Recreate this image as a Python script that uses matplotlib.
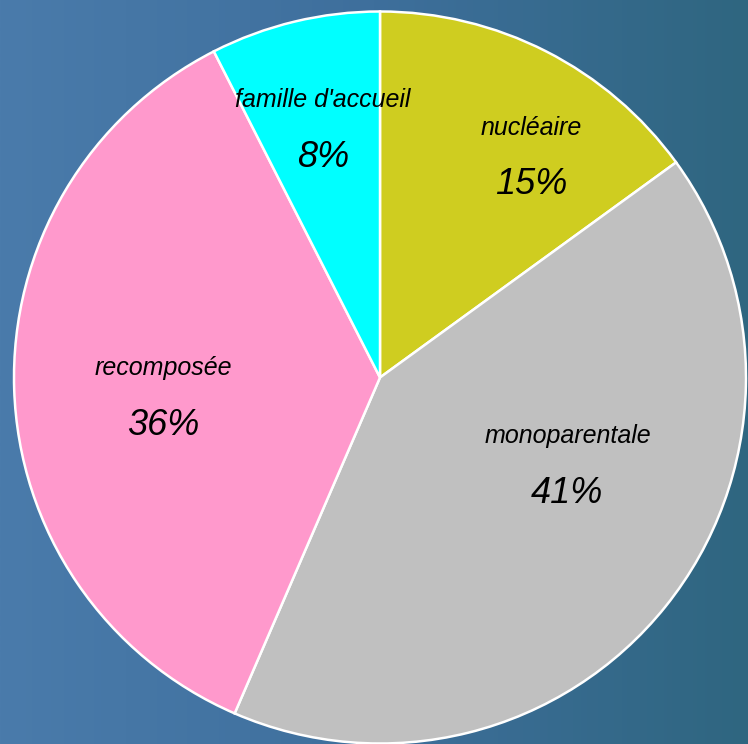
import numpy as np
import matplotlib.pyplot as plt
from matplotlib.colors import LinearSegmentedColormap

# data
categories = ['nucléaire', 'monoparentale', 'recomposée', "famille d'accueil"]
values = [15, 41.5, 36, 7.5]
pct_labels = ['15%', '41%', '36%', '8%']
colors = ['#cfcd20', '#c0c0c0', '#ff99cc', '#00ffff']

# label centres, in units of the pie radius
label_pos = [(0.413, 0.601), (0.512, -0.243), (-0.593, -0.057), (-0.156, 0.675)]

fig = plt.figure(figsize=(7.48, 7.44), dpi=100)

# background (blue textured picture in the original, approximated by a gradient)
bg = fig.add_axes([0, 0, 1, 1])
cmap = LinearSegmentedColormap.from_list('bg', ['#4a7bab', '#3e6f9c', '#2f6680'])
grad = np.linspace(0, 1, 256).reshape(1, -1)
bg.imshow(grad, aspect='auto', cmap=cmap, extent=[0, 1, 0, 1])
bg.axis('off')

# pie fills nearly the whole figure: centre (380,377) px, radius ~366 px
r = 366
cx, cy = 380, 744 - 377.5
ax = fig.add_axes([(cx - r) / 748, (cy - r) / 744, 2 * r / 748, 2 * r / 744])
ax.pie(values, colors=colors, startangle=90, counterclock=False,
       wedgeprops=dict(edgecolor='white', linewidth=1.8))
ax.set_xlim(-1, 1)
ax.set_ylim(-1, 1)
ax.set_aspect('auto')

fam = ['Liberation Sans', 'DejaVu Sans']
for name, pct, (x, y) in zip(categories, pct_labels, label_pos):
    ax.text(x, y + 0.082, name, ha='center', va='center', fontsize=18,
            style='italic', family=fam, color='black')
    ax.text(x, y - 0.075, pct, ha='center', va='center', fontsize=26,
            style='italic', family=fam, color='black')

fig.savefig('out.png', dpi=100)
